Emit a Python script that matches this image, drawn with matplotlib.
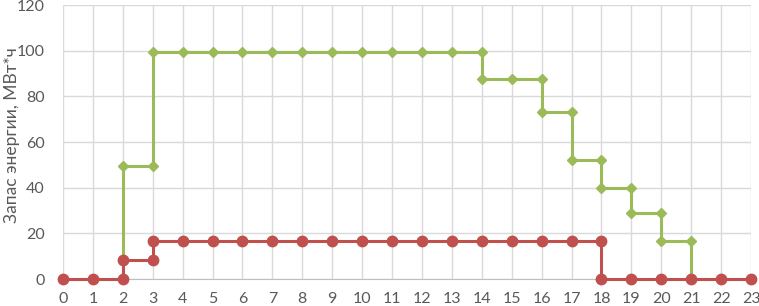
import matplotlib
matplotlib.use("Agg")
import matplotlib.pyplot as plt

# Data (XY points of the step charts)
green_x = [0, 1, 2, 2, 3, 3, 4, 5, 6, 7, 8, 9, 10, 11, 12, 13, 14, 14, 15, 16, 16, 17, 17, 18, 18, 19, 19, 20, 20, 21, 21, 22, 23]
green_y = [0, 0, 0, 49.5, 49.5, 99.4, 99.4, 99.4, 99.4, 99.4, 99.4, 99.4, 99.4, 99.4, 99.4, 99.4, 99.4, 87.7, 87.7, 87.7, 73.3, 73.3, 52.2, 52.2, 40.1, 40.1, 28.8, 28.8, 16.8, 16.8, 0, 0, 0]
red_x = [0, 1, 2, 2, 3, 3, 4, 5, 6, 7, 8, 9, 10, 11, 12, 13, 14, 15, 16, 17, 18, 18, 19, 20, 21, 22, 23]
red_y = [0, 0, 0, 8.3, 8.3, 16.7, 16.7, 16.7, 16.7, 16.7, 16.7, 16.7, 16.7, 16.7, 16.7, 16.7, 16.7, 16.7, 16.7, 16.7, 16.7, 0, 0, 0, 0, 0, 0]
x_ticks = list(range(0, 24))
y_ticks = [0, 20, 40, 60, 80, 100, 120]
y_label = "Запас энергии, МВт*ч"

plt.rcParams['font.family'] = ['Lato', 'DejaVu Sans']

fig = plt.figure(figsize=(7.59, 3.06), dpi=100)
ax = fig.add_axes([0.083, 0.088, 0.9065, 0.8955])

ax.plot(green_x, green_y, color='#9bbb59', lw=2.2, marker='D', ms=5.5,
        clip_on=False, zorder=3)
ax.plot(red_x, red_y, color='#c0504d', lw=2.2, marker='o', ms=7.5,
        clip_on=False, zorder=4)

ax.set_xlim(0, 23)
ax.set_ylim(0, 120)
ax.set_xticks(x_ticks)
ax.set_yticks(y_ticks)
ax.grid(True, color='#d9d9d9', lw=1)
ax.set_axisbelow(True)
for s in ['top', 'right', 'left']:
    ax.spines[s].set_visible(False)
ax.spines['bottom'].set_color('#bfbfbf')
ax.tick_params(axis='y', length=0, labelsize=11.5, labelcolor='#595959', pad=13)
ax.tick_params(axis='x', length=0, labelsize=11.5, labelcolor='#595959', pad=9)
fig.text(12 / 759, 0.559, y_label, rotation=90, ha='center', va='center',
         fontsize=12.5, color='#595959')

fig.savefig("out.png", dpi=100)
